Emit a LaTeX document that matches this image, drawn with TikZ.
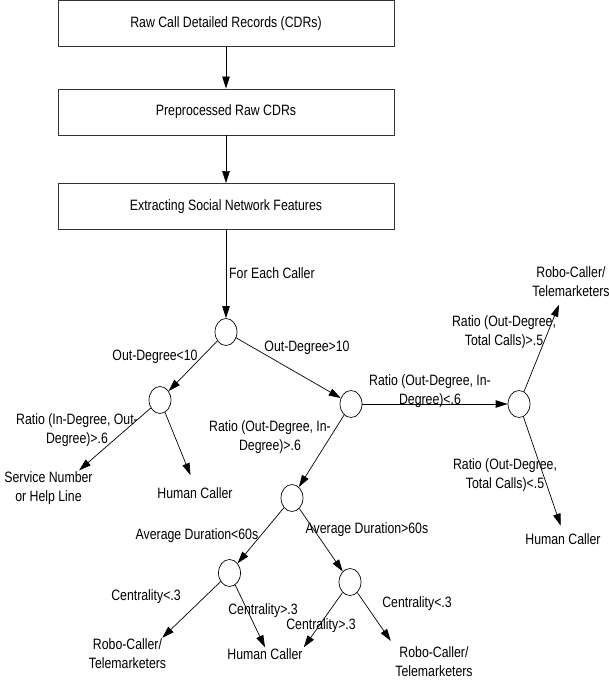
\documentclass[tikz,border=0pt]{standalone}
\usepackage{fontspec}
\setmainfont{Liberation Sans}[FakeStretch=0.82]
\usetikzlibrary{arrows.meta, shapes.geometric}

\tikzset{
    stage/.style={draw=black!80, line width=0.9pt, minimum width=336pt, minimum height=46pt},
    split/.style={draw, ellipse, minimum width=22pt, minimum height=27pt, inner sep=0pt, line width=0.7pt},
    lbl/.style={inner sep=1pt, align=center},
    arr/.style={-{Triangle[length=12pt,width=7.5pt]}, line width=0.7pt}
}

\begin{document}
\begin{tikzpicture}[x=1pt, y=-1pt, font=\fontsize{15pt}{19pt}\selectfont]
    \useasboundingbox (0,0) rectangle (609,684);
    % pipeline
    \node[stage] (raw) at (226,23.5) {Raw Call Detailed Records (CDRs)};
    \node[stage] (pre) at (226,112) {Preprocessed Raw CDRs};
    \node[stage] (feat) at (226,206.5) {Extracting Social Network Features};
    \draw[arr] (raw) -- (pre);
    \draw[arr] (pre) -- (feat);
    % decision points
    \node[split] (root) at (226,332) {};
    \node[split] (low) at (160,400) {};
    \node[split] (high) at (351,404) {};
    \node[split] (outr) at (519,404) {};
    \node[split] (dur) at (292,498) {};
    \node[split] (shortd) at (229.5,573) {};
    \node[split] (longd) at (350,582) {};
    % conditions
    \node[lbl, anchor=west] (each) at (228,273) {For Each Caller};
    \node[lbl] (c1) at (155,357) {Out-Degree<10};
    \node[lbl] (c2) at (307,348) {Out-Degree>10};
    \node[lbl] (c3) at (77,430) {Ratio (In-Degree, Out-\\Degree)>.6};
    \node[lbl] (c4) at (270,437) {Ratio (Out-Degree, In-\\Degree)>.6};
    \node[lbl] (c5) at (430,391) {Ratio (Out-Degree, In-\\Degree)<.6};
    \node[lbl] (c6) at (504,332) {Ratio (Out-Degree,\\Total Calls)>.5};
    \node[lbl] (c7) at (505,475) {Ratio (Out-Degree,\\Total Calls)<.5};
    \node[lbl] (c8) at (197,536) {Average Duration<60s};
    \node[lbl] (c9) at (367,530) {Average Duration>60s};
    \node[lbl] (c10) at (146,597) {Centrality<.3};
    \node[lbl] (c11) at (263,611) {Centrality>.3};
    \node[lbl] (c12) at (321,626) {Centrality>.3};
    \node[lbl] (c13) at (417,604) {Centrality<.3};
    % outcomes
    \node[lbl] (svc) at (48.5,488) {Service Number\\or Help Line};
    \node[lbl] (hum1) at (195,493) {Human Caller};
    \node[lbl] (robo1) at (571,282) {Robo-Caller/\\Telemarketers};
    \node[lbl] (hum2) at (563,539) {Human Caller};
    \node[lbl] (robo2) at (127.5,654) {Robo-Caller/\\Telemarketers};
    \node[lbl] (hum3) at (265,654) {Human Caller};
    \node[lbl] (robo3) at (434,662) {Robo-Caller/\\Telemarketers};
    % tree edges
    \draw[arr] (feat) -- (root);
    \draw[arr] (root) -- (low);
    \draw[arr] (root) -- (high);
    \draw[arr] (low) -- (svc.30);
    \draw[arr, shorten >=12pt] (low) -- (hum1.north);
    \draw[arr] (high) -- (outr);
    \draw[arr] (high) -- (dur);
    \draw[arr, shorten >=7pt] (outr) -- (robo1.240);
    \draw[arr, shorten >=7pt] (outr) -- (hum2.north);
    \draw[arr] (dur) -- (shortd);
    \draw[arr] (dur) -- (longd);
    \draw[arr] (shortd) -- (robo2.25);
    \draw[arr] (shortd) -- (hum3.north);
    \draw[arr] (longd) -- (hum3.north east);
    \draw[arr, shorten >=6pt] (longd) -- (robo3.north west);
\end{tikzpicture}
\end{document}
